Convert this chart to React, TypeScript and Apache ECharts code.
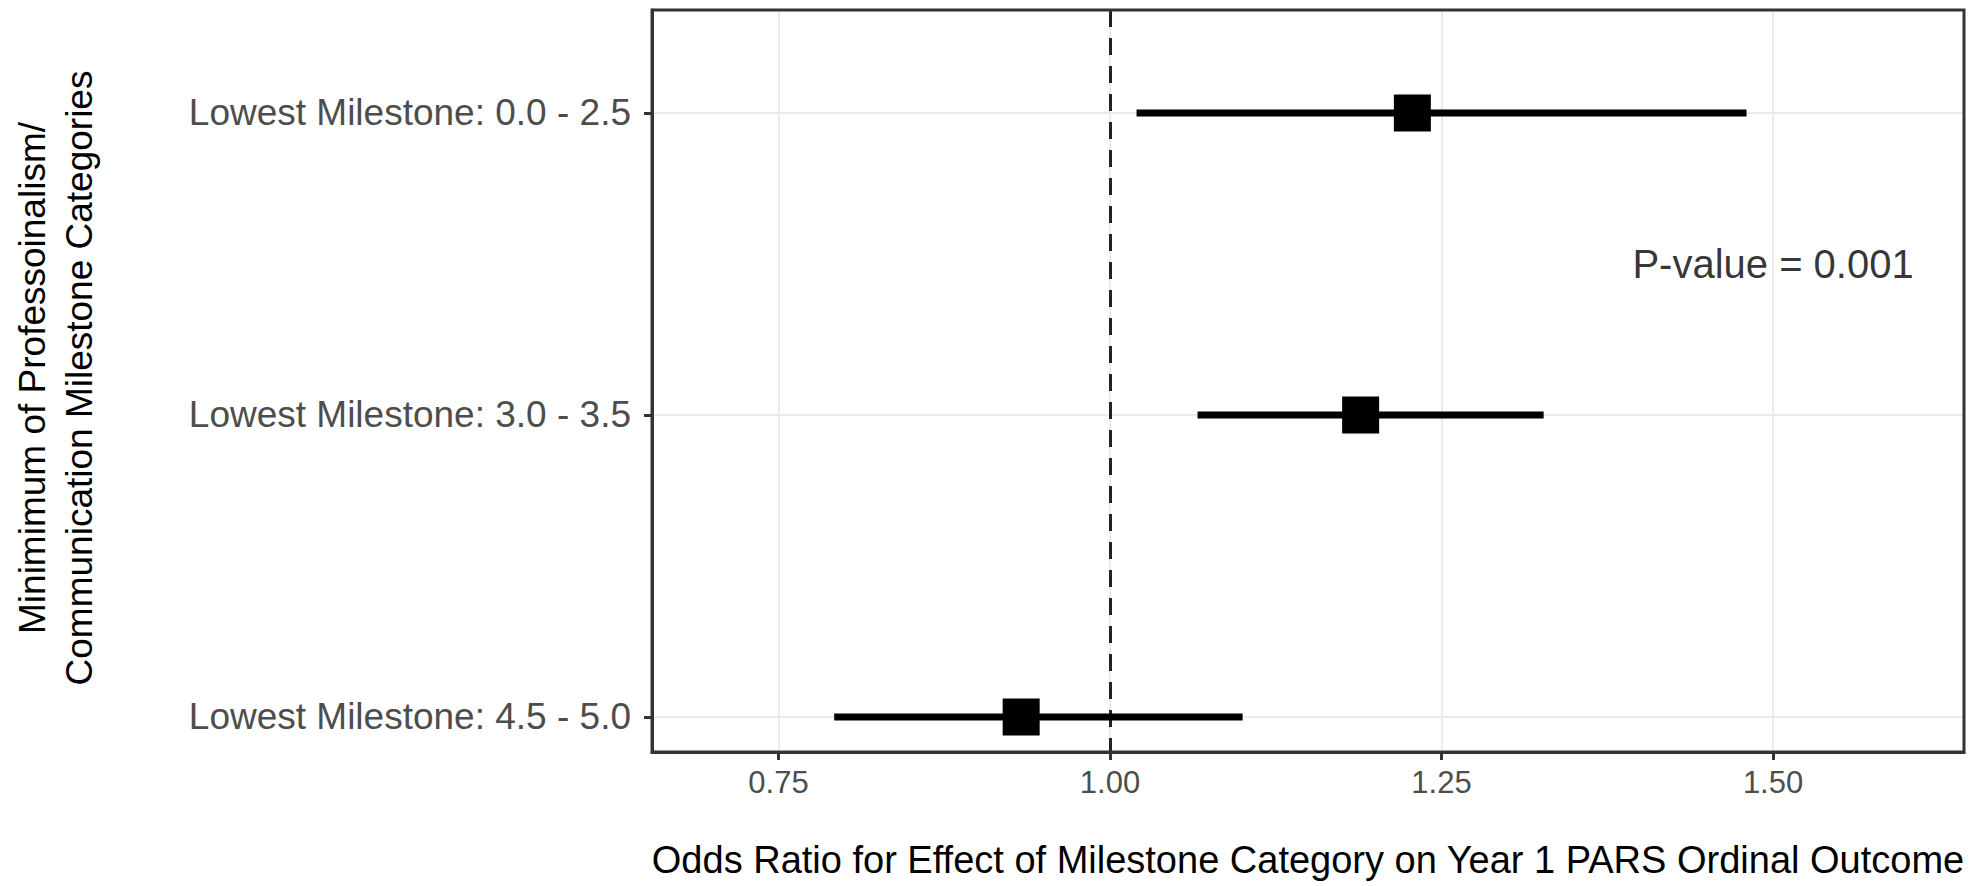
import React, { useEffect, useRef } from "react";
import * as echarts from "echarts";

const categories = [
  "Lowest Milestone: 0.0 - 2.5",
  "Lowest Milestone: 3.0 - 3.5",
  "Lowest Milestone: 4.5 - 5.0",
];
const oddsRatio = [1.228, 1.189, 0.933];
const ciLower = [1.02, 1.066, 0.792];
const ciUpper = [1.48, 1.327, 1.1];
const xTicks = [0.75, 1.0, 1.25, 1.5];
const pValueLabel = "P-value = 0.001";
const pValuePos = [1.5, 0.5];
const refLine = 1.0;

const FONT = "'Liberation Sans', Arial, Helvetica, sans-serif";

export default function App() {
  const ref = useRef<HTMLDivElement>(null);
  useEffect(() => {
    if (!ref.current) return;
    const chart = echarts.init(ref.current, null, { renderer: "svg" });
    const idx = categories.map((_, i) => i);
    const option: any = {
      animation: false,
      backgroundColor: "#ffffff",
      grid: { left: 652, right: 8, top: 10, bottom: 134, containLabel: false },
      xAxis: {
        type: "value",
        min: 0.6546,
        max: 1.644,
        axisLine: { show: true, onZero: false, lineStyle: { color: "#333333", width: 3 } },
        axisTick: { show: true, length: 8, customValues: xTicks, lineStyle: { color: "#333333", width: 3 } },
        axisLabel: {
          show: true,
          customValues: xTicks,
          margin: 15,
          color: "#4d4d4d",
          fontFamily: FONT,
          fontSize: 31,
          formatter: (v: number) => v.toFixed(2),
        },
        splitLine: { show: true, lineStyle: { color: "#ebebeb", width: 2 } },
        name: "Odds Ratio for Effect of Milestone Category on Year 1 PARS Ordinal Outcome",
        nameLocation: "middle",
        nameGap: 89,
        nameTextStyle: { color: "#000000", fontFamily: FONT, fontSize: 38 },
      },
      yAxis: {
        type: "value",
        inverse: true,
        min: -0.341,
        max: 2.116,
        axisLine: { show: true, onZero: false, lineStyle: { color: "#333333", width: 3 } },
        axisTick: { show: true, length: 8, customValues: idx, lineStyle: { color: "#333333", width: 3 } },
        axisLabel: {
          show: true,
          customValues: idx,
          margin: 21,
          color: "#4d4d4d",
          fontFamily: FONT,
          fontSize: 37,
          formatter: (v: number) => categories[Math.round(v)] ?? "",
        },
        splitLine: { show: true, lineStyle: { color: "#ebebeb", width: 2 } },
      },
      graphic: [
        {
          type: "rect",
          shape: { x: 652, y: 10, width: 1312, height: 742 },
          style: { fill: "none", stroke: "#333333", lineWidth: 3 },
          z: 100,
          silent: true,
        },
        {
          type: "text",
          x: 56,
          y: 378,
          rotation: Math.PI / 2,
          style: {
            text: "Minimimum of Professoinalism/\nCommunication Milestone Categories",
            align: "center",
            verticalAlign: "middle",
            fontFamily: FONT,
            fontSize: 37,
            lineHeight: 47,
            fill: "#000000",
          },
        },
      ],
      series: [
        {
          type: "custom",
          renderItem: (params: any, api: any) => {
            const y = api.value(2);
            const p1 = api.coord([api.value(0), y]);
            const p2 = api.coord([api.value(1), y]);
            return {
              type: "line",
              shape: { x1: p1[0], y1: p1[1], x2: p2[0], y2: p2[1] },
              style: { stroke: "#000000", lineWidth: 7 },
            };
          },
          encode: { x: [0, 1], y: 2 },
          data: idx.map((i) => [ciLower[i], ciUpper[i], i]),
          z: 3,
        },
        {
          type: "scatter",
          symbol: "rect",
          symbolSize: 37,
          itemStyle: { color: "#000000", opacity: 1 },
          data: idx.map((i) => [oddsRatio[i], i]),
          z: 4,
          markLine: {
            silent: true,
            symbol: "none",
            label: { show: false },
            lineStyle: { color: "#222222", width: 3, type: [17, 11], opacity: 1 },
            data: [{ xAxis: refLine }],
            z: 2,
          },
        },
        {
          type: "scatter",
          symbolSize: 0,
          data: [pValuePos],
          label: {
            show: true,
            position: "inside",
            formatter: pValueLabel,
            color: "#000000",
            fontFamily: FONT,
            fontSize: 40,
          },
          z: 5,
        },
      ],
    };
    chart.setOption(option);
    return () => chart.dispose();
  }, []);
  return <div ref={ref} style={{ width: 1972, height: 886, position: "absolute", left: 0, top: 0 }} />;
}
